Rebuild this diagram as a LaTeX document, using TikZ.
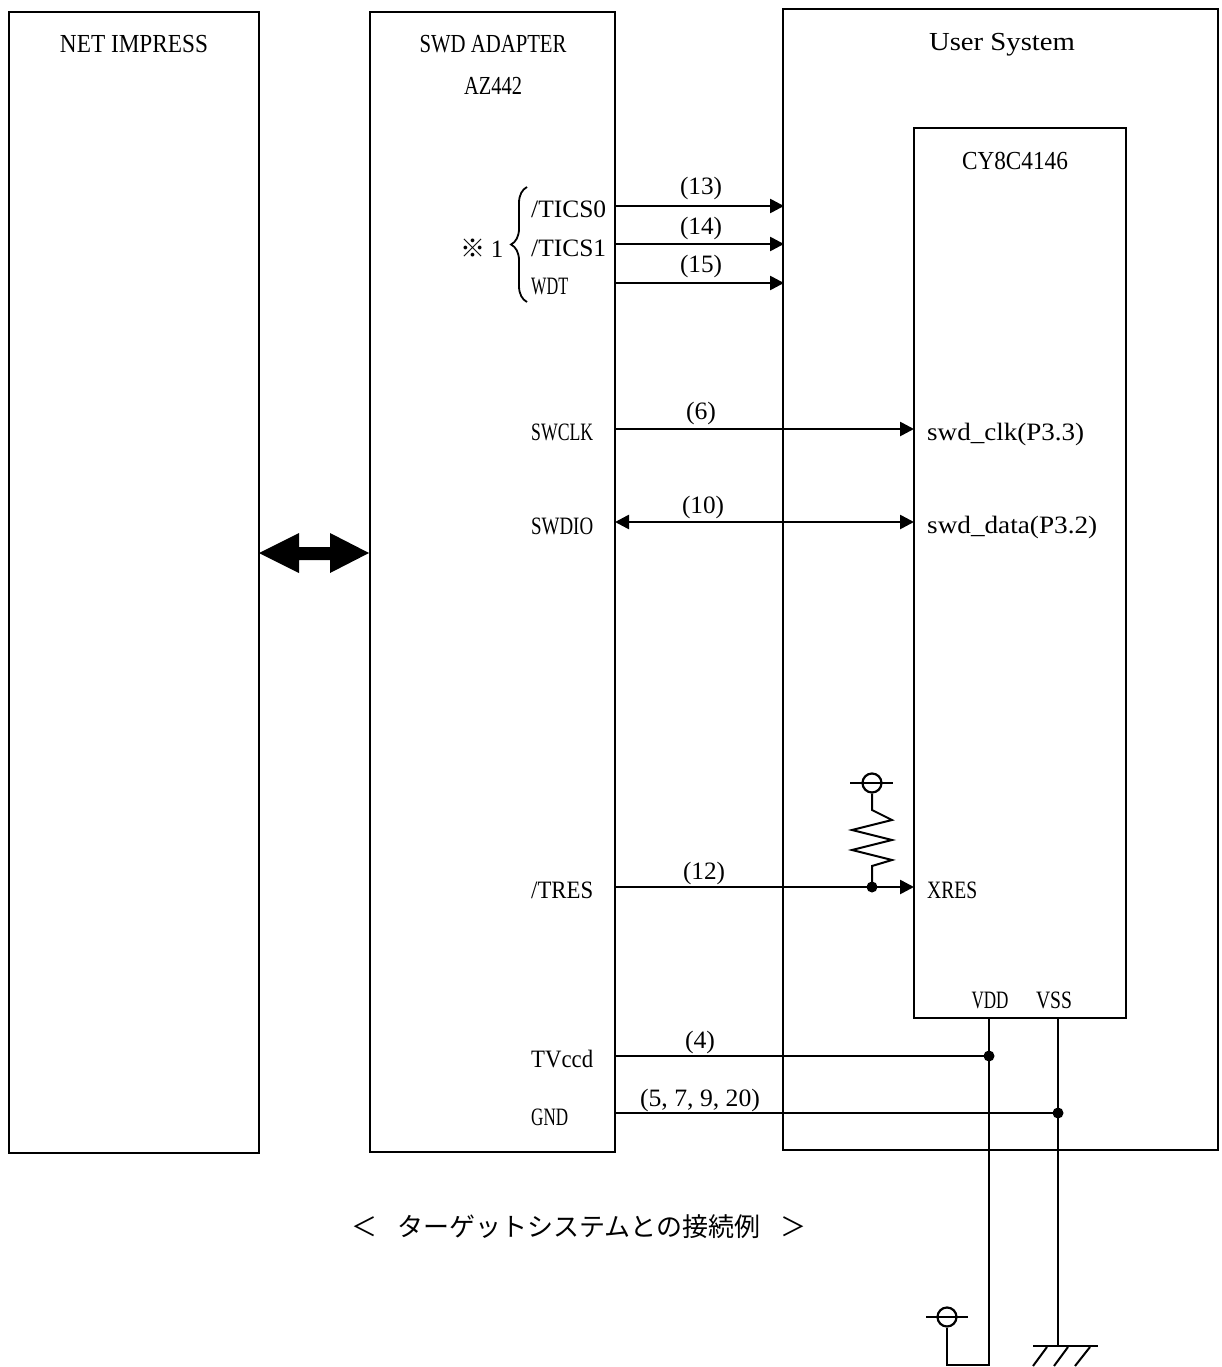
\documentclass[tikz,border=0pt]{standalone}
\usepackage{fontspec}
\usepackage{graphicx}
\setmainfont{Liberation Serif}
\newfontfamily\jfont{Noto Sans CJK JP}
\newcommand\fitw[2]{\resizebox{#1pt}{\height}{#2}}
\usetikzlibrary{arrows.meta,decorations.pathreplacing}
\begin{document}
\begin{tikzpicture}[x=1pt,y=-1pt,
  box/.style={draw,line width=1.8pt},
  sig/.style={line width=2.6pt},
  thin/.style={line width=2pt},
  tip/.style={-{Triangle[length=14pt,width=14pt]}},
  dtip/.style={{Triangle[length=14pt,width=14pt]}-{Triangle[length=14pt,width=14pt]}},
  txt/.style={font=\fontsize{25}{25}\selectfont, inner sep=0pt, anchor=base},
  ttl/.style={font=\fontsize{26}{26}\selectfont, inner sep=0pt, anchor=base},
  ltxt/.style={txt, anchor=base west},
  dot/.style={circle,fill,inner sep=0pt,minimum size=11pt}
]
\useasboundingbox (0,0) rectangle (1222,1367);

% boxes
\draw[box] (9,12) rectangle (259,1153);
\draw[box] (370,12) rectangle (615,1152);
\draw[box] (783,9) rectangle (1218,1150);
\draw[box] (914,128) rectangle (1126,1018);

% titles
\node[ttl] (tnet) at (134,53) {\fitw{148}{NET IMPRESS}};
\node[ttl] (tswd) at (493,53) {\fitw{147}{SWD ADAPTER}};
\node[ttl] (taz) at (493,95) {\fitw{58}{AZ442}};
\node[ttl] (tus) at (1002,51) {\fitw{146}{User System}};
\node[ttl] (tcy) at (1015,170) {\fitw{106}{CY8C4146}};

% fat double arrow
\fill (259,553) -- (299,533) -- (299,547) -- (330,547) -- (330,533) -- (369,553)
  -- (330,573) -- (330,560) -- (299,560) -- (299,573) -- cycle;

% brace and note
\draw[line width=1.8pt, decorate, decoration={brace, amplitude=16pt}] (527,302) -- (527,187);
\node[font=\jfont\fontsize{25}{25}\selectfont, inner sep=0pt] (note) at (473,248) {※};
\node[txt] (note1) at (497,257) {1};

% adapter pins
\node[ltxt] (ptics0) at (531,217) {\fitw{75}{/TICS0}};
\node[ltxt] (ptics1) at (531,256) {\fitw{75}{/TICS1}};
\node[ltxt] (pwdt) at (531,294) {\fitw{37}{WDT}};
\node[ltxt] (pswclk) at (531,440) {\fitw{62}{SWCLK}};
\node[ltxt] (pswdio) at (531,534) {\fitw{62}{SWDIO}};
\node[ltxt] (ptres) at (531,898) {\fitw{62}{/TRES}};
\node[ltxt] (ptvccd) at (531,1067) {\fitw{62}{TVccd}};
\node[ltxt] (pgnd) at (531,1125) {\fitw{37}{GND}};

% target pins
\node[ltxt] (tclk) at (927,440) {\fitw{157}{swd\_clk(P3.3)}};
\node[ltxt] (tdata) at (927,533) {\fitw{170}{swd\_data(P3.2)}};
\node[ltxt] (txres) at (927,898) {\fitw{50}{XRES}};
\node[txt] (tvdd) at (990,1008) {\fitw{37}{VDD}};
\node[txt] (tvss) at (1054,1008) {\fitw{36}{VSS}};

% connection coordinates
\coordinate (a13) at (615,206); \coordinate (u13) at (784,206);
\coordinate (a14) at (615,244); \coordinate (u14) at (784,244);
\coordinate (a15) at (615,283); \coordinate (u15) at (784,283);
\coordinate (a6) at (615,429);  \coordinate (c6) at (914,429);
\coordinate (a10) at (615,522); \coordinate (c10) at (914,522);
\coordinate (a12) at (615,887); \coordinate (c12) at (914,887);
\coordinate (a4) at (615,1056); \coordinate (j4) at (989,1056);
\coordinate (ag) at (615,1113); \coordinate (jg) at (1058,1113);

\draw[sig,tip] (a13) -- (u13);
\draw[sig,tip] (a14) -- (u14);
\draw[sig,tip] (a15) -- (u15);
\draw[sig,tip] (a6) -- (c6);
\draw[sig,dtip] (a10) -- (c10);
\draw[sig,tip] (a12) -- (c12);
\draw[sig] (a4) -- (j4);
\draw[sig] (ag) -- (jg);

% wire labels
\node[txt] (l13) at (701,195) {\fitw{42}{(13)}};
\node[txt] (l14) at (701,234) {\fitw{42}{(14)}};
\node[txt] (l15) at (701,272) {\fitw{42}{(15)}};
\node[txt] (l6) at (701,419) {\fitw{30}{(6)}};
\node[txt] (l10) at (703,513) {\fitw{42}{(10)}};
\node[txt] (l12) at (704,879) {\fitw{42}{(12)}};
\node[txt] (l4) at (700,1048) {\fitw{30}{(4)}};
\node[txt] (l5) at (700,1106) {\fitw{120}{(5, 7, 9, 20)}};

% pull-up resistor on XRES
\node[dot] (dres) at (872,887) {};
\node[draw,circle,line width=2.2pt,minimum size=19pt,inner sep=0pt] (pu1) at (872,783) {};
\draw[line width=2.6pt] (850,783) -- (893,783);
\draw[thin] (pu1.south) -- (872,810) -- (892,820) -- (852,830) -- (892,840) -- (852,850) -- (892,860) -- (872,866) -- (dres.center);

% VDD / VSS lines
\coordinate (vddtop) at (989,1018);
\coordinate (vsstop) at (1058,1018);
\coordinate (vddbot) at (989,1365);
\coordinate (pubot) at (947,1365);
\coordinate (gnd) at (1058,1346);
\node[dot] (dvdd) at (j4) {};
\node[dot] (dvss) at (jg) {};
\node[draw,circle,line width=2.2pt,minimum size=19pt,inner sep=0pt] (pu2) at (947,1317) {};
\draw[line width=2.6pt] (926,1317) -- (968,1317);
\draw[thin] (vddtop) -- (vddbot) -- (pubot) -- (pu2.south);
\draw[thin] (vsstop) -- (gnd);

% ground symbol
\draw[line width=2.8pt] (1033,1346) -- (1098,1346);
\draw[thin] (1047,1347) -- (1033,1366);
\draw[thin] (1068,1347) -- (1054,1366);
\draw[thin] (1090,1347) -- (1075,1366);

% caption
\node[font=\jfont\fontsize{26}{26}\selectfont, inner sep=0pt] (capl) at (364,1227) {＜};
\node[font=\jfont\fontsize{26}{26}\selectfont, inner sep=0pt] (cap) at (579,1227) {ターゲットシステムとの接続例};
\node[font=\jfont\fontsize{26}{26}\selectfont, inner sep=0pt] (capr) at (793,1227) {＞};
\end{tikzpicture}
\end{document}
